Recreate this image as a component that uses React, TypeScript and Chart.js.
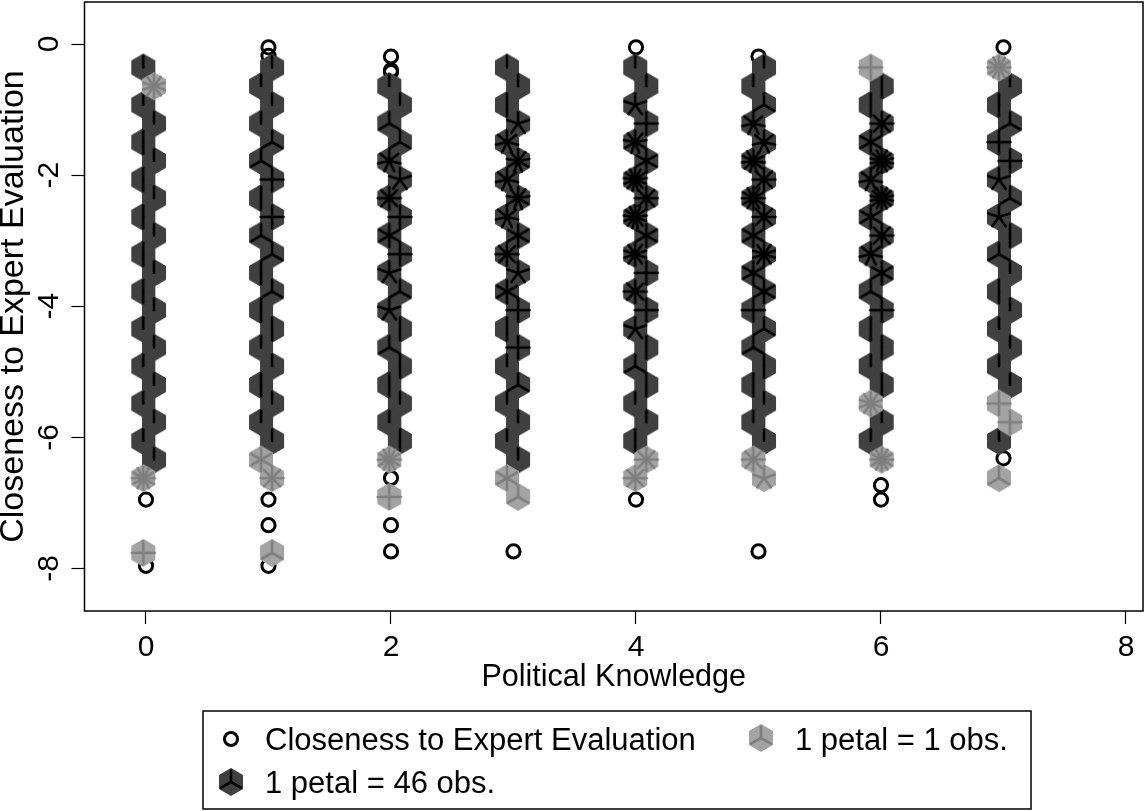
import React, { useEffect, useRef } from "react";
import { Chart, registerables } from "chart.js";

Chart.register(...registerables);

const FONT = "'Liberation Sans', Arial, sans-serif";
const xTickValues = [0, 2, 4, 6, 8];
const yTickValues = [0, -2, -4, -6, -8];
const xAxisTitle = "Political Knowledge";
const yAxisTitle = "Closeness to Expert Evaluation";
const legendCircleLabel = "Closeness to Expert Evaluation";
const legendLightLabel = "1 petal = 1 obs.";
const legendDarkLabel = "1 petal = 46 obs.";

// Sunflower grid rows, from the top of the chart to the bottom
const rowValues = [
  -0.358, -0.643, -0.928, -1.213, -1.497, -1.782, -2.067, -2.352, -2.637, -2.921,
  -3.206, -3.491, -3.776, -4.06, -4.345, -4.63, -4.915, -5.2, -5.484, -5.769,
  -6.054, -6.339, -6.623, -6.908, -7.193, -7.478, -7.762,
];
// Sunflower centres for each knowledge level, on even and odd rows
const evenRowX = [-0.022, 1.029, 2.073, 2.947, 3.994, 5.045, 5.916, 6.963];
const oddRowX = [0.065, 0.939, 1.986, 3.037, 4.084, 4.958, 6.006, 7.053];

// Dark sunflowers: petals per row for each knowledge level (0 = no flower)
const dark0 = [1, 0, 1, 1, 2, 1, 2, 1, 2, 1, 2, 1, 2, 1, 1, 1, 1, 1, 1, 1, 1, 1];
const dark1 = [1, 1, 1, 1, 3, 3, 4, 2, 4, 3, 3, 2, 3, 2, 2, 1, 1, 2, 1, 1, 1];
const dark2 = [0, 1, 1, 3, 3, 7, 5, 8, 4, 6, 4, 5, 3, 5, 2, 3, 2, 2, 1, 1, 2];
const dark3 = [1, 1, 2, 5, 7, 9, 7, 9, 7, 6, 8, 5, 6, 4, 2, 4, 1, 3, 1, 1, 1, 1];
const dark4 = [1, 1, 5, 4, 9, 6, 13, 8, 13, 6, 10, 4, 8, 4, 5, 2, 3, 2, 1, 1, 2];
const dark5 = [1, 1, 3, 7, 7, 11, 8, 12, 8, 6, 10, 6, 6, 4, 3, 3, 2, 2, 1, 1, 1];
const dark6 = [0, 2, 2, 8, 6, 14, 7, 14, 6, 8, 7, 6, 3, 4, 2, 2, 1, 2, 0, 1, 1];
const dark7 = [0, 1, 2, 3, 4, 4, 5, 3, 5, 2, 3, 1, 2, 1, 1, 1, 1, 1, 0, 0, 1];
const darkColumns = [dark0, dark1, dark2, dark3, dark4, dark5, dark6, dark7];

// Light sunflowers: [row, petals] for each knowledge level
const light0 = [[1, 10], [22, 12], [26, 4]];
const light1 = [[21, 6], [22, 8], [26, 3]];
const light2 = [[21, 12], [23, 4]];
const light3 = [[22, 6], [23, 3]];
const light4 = [[21, 8], [22, 8]];
const light5 = [[21, 8], [22, 5]];
const light6 = [[0, 4], [18, 10], [21, 12]];
const light7 = [[0, 12], [18, 4], [19, 4], [22, 3]];
const lightColumns = [light0, light1, light2, light3, light4, light5, light6, light7];

// Individual observations: [knowledge, closeness]
const singlePoints = [
  [0, -6.95], [0, -7.96],
  [1, -0.05], [1, -0.18], [1, -6.95], [1, -7.34], [1, -7.96],
  [2, -0.19], [2, -0.4], [2, -0.43], [2, -6.62], [2, -7.34], [2, -7.74],
  [3, -7.74],
  [4, -0.05], [4, -6.95],
  [5, -0.19], [5, -7.74],
  [6, -6.73], [6, -6.95],
  [7, -0.05], [7, -6.32],
];

const DARK_HEX = "#404040";
const LIGHT_HEX = "#a3a3a3";
const DARK_PETAL = "#000000";
const LIGHT_PETAL = "#7f7f7f";

function hexSprite(color: string) {
  const c = document.createElement("canvas");
  c.width = 32;
  c.height = 32;
  const g = c.getContext("2d")!;
  g.fillStyle = color;
  g.beginPath();
  for (let i = 0; i < 6; i++) {
    const a = (i * Math.PI) / 3;
    const px = 16 + 13.9 * Math.sin(a);
    const py = 16 - 13.9 * Math.cos(a);
    if (i === 0) g.moveTo(px, py);
    else g.lineTo(px, py);
  }
  g.closePath();
  g.fill();
  return c;
}

const petalCache: Record<string, HTMLCanvasElement> = {};
function petalSprite(n: number, color: string) {
  const key = n + color;
  if (petalCache[key]) return petalCache[key];
  const c = document.createElement("canvas");
  c.width = 32;
  c.height = 32;
  const g = c.getContext("2d")!;
  g.strokeStyle = color;
  g.lineWidth = 2.6;
  g.lineCap = "round";
  for (let i = 0; i < n; i++) {
    const a = (i * 2 * Math.PI) / n;
    g.beginPath();
    g.moveTo(16, 16);
    g.lineTo(16 + 11.4 * Math.sin(a), 16 - 11.4 * Math.cos(a));
    g.stroke();
  }
  petalCache[key] = c;
  return c;
}

function clearPadding(s: any) {
  s.paddingLeft = 0;
  s.paddingRight = 0;
  s.paddingTop = 0;
  s.paddingBottom = 0;
}

export default function App() {
  const ref = useRef<HTMLCanvasElement | null>(null);
  useEffect(() => {
    document.body.style.margin = "0";
    const darkHex = hexSprite(DARK_HEX);
    const lightHex = hexSprite(LIGHT_HEX);

    const darkPts: any[] = [];
    darkColumns.forEach((col, c) => {
      col.forEach((n, k) => {
        if (n > 0) darkPts.push({ x: k % 2 === 0 ? evenRowX[c] : oddRowX[c], y: rowValues[k], n });
      });
    });
    const lightPts: any[] = [];
    lightColumns.forEach((col, c) => {
      col.forEach(([k, n]) => {
        lightPts.push({ x: k % 2 === 0 ? evenRowX[c] : oddRowX[c], y: rowValues[k], n });
      });
    });

    const legendPlugin = {
      id: "boxLegend",
      afterDraw(chart: any) {
        const g = chart.ctx;
        g.save();
        // frame of the plot region
        const a = chart.chartArea;
        g.strokeStyle = "#000";
        g.lineWidth = 1.5;
        g.strokeRect(a.left, a.top, a.right - a.left, a.bottom - a.top);
        // legend box
        g.strokeRect(203, 711, 828, 98);
        g.fillStyle = "#000";
        g.font = "31px " + FONT;
        g.textAlign = "left";
        g.textBaseline = "alphabetic";
        g.fillText(legendCircleLabel, 265, 750);
        g.fillText(legendLightLabel, 795, 750);
        g.fillText(legendDarkLabel, 265, 793);
        g.lineWidth = 3;
        g.beginPath();
        g.arc(231, 739, 6.5, 0, Math.PI * 2);
        g.stroke();
        g.drawImage(lightHex, 761 - 16, 738 - 16);
        g.drawImage(petalSprite(3, LIGHT_PETAL), 761 - 16, 738 - 16);
        g.drawImage(darkHex, 231 - 16, 782 - 16);
        g.drawImage(petalSprite(3, DARK_PETAL), 231 - 16, 782 - 16);
        g.restore();
      },
    };

    const chart = new Chart(ref.current!, {
      type: "scatter",
      plugins: [legendPlugin],
      data: {
        datasets: [
          {
            label: legendCircleLabel,
            order: 5,
            data: singlePoints.map(([x, y]) => ({ x, y })),
            pointStyle: "circle",
            pointRadius: 6.6,
            pointBorderWidth: 3,
            pointBorderColor: "#000",
            pointBackgroundColor: "rgba(0,0,0,0)",
          },
          {
            label: "dark flowers",
            order: 4,
            data: darkPts,
            pointStyle: darkHex,
            pointRadius: 14,
          },
          {
            label: legendDarkLabel,
            order: 3,
            data: darkPts,
            pointStyle: (ctx: any) => petalSprite(ctx.raw ? ctx.raw.n : 3, DARK_PETAL),
            pointRadius: 14,
          },
          {
            label: "light flowers",
            order: 2,
            data: lightPts,
            pointStyle: lightHex,
            pointRadius: 14,
          },
          {
            label: legendLightLabel,
            order: 1,
            data: lightPts,
            pointStyle: (ctx: any) => petalSprite(ctx.raw ? ctx.raw.n : 3, LIGHT_PETAL),
            pointRadius: 14,
          },
        ],
      } as any,
      options: {
        responsive: false,
        animation: false,
        layout: { autoPadding: false, padding: { top: 2, right: 1, left: 0, bottom: 0 } },
        plugins: { legend: { display: false }, tooltip: { enabled: false } },
        scales: {
          x: {
            type: "linear",
            min: -0.502,
            max: 8.139,
            afterBuildTicks: (s: any) => {
              s.ticks = xTickValues.map((value) => ({ value }));
            },
            afterFit: (s: any) => {
              s.height = 200;
              clearPadding(s);
            },
            grid: { drawOnChartArea: false, drawTicks: true, tickLength: 13, tickWidth: 1.2, tickColor: "#000" },
            border: { display: false },
            ticks: {
              color: "#000",
              font: { family: FONT, size: 30 },
              padding: 6,
              maxRotation: 0,
              minRotation: 0,
              callback: (v: any) => String(v),
            },
            title: {
              display: true,
              text: xAxisTitle,
              color: "#000",
              font: { family: FONT, size: 30.5 },
              padding: { top: 0, bottom: 115 },
            },
          },
          y: {
            type: "linear",
            min: -8.649,
            max: 0.641,
            afterBuildTicks: (s: any) => {
              s.ticks = yTickValues.map((value) => ({ value }));
            },
            afterFit: (s: any) => {
              s.width = 84.5;
              clearPadding(s);
            },
            grid: { drawOnChartArea: false, drawTicks: true, tickLength: 13, tickWidth: 1.2, tickColor: "#000" },
            border: { display: false },
            ticks: {
              color: "#000",
              font: { family: FONT, size: 30 },
              padding: 8,
              minRotation: 90,
              maxRotation: 90,
              crossAlign: "center",
              callback: (v: any) => String(v),
            },
            title: {
              display: true,
              text: yAxisTitle,
              color: "#000",
              font: { family: FONT, size: 34, lineHeight: 0.8 },
              padding: { top: 0, bottom: 0 },
            },
          },
        },
      } as any,
    });
    return () => chart.destroy();
  }, []);
  return <canvas ref={ref} width={1144} height={811} style={{ display: "block" }} />;
}
